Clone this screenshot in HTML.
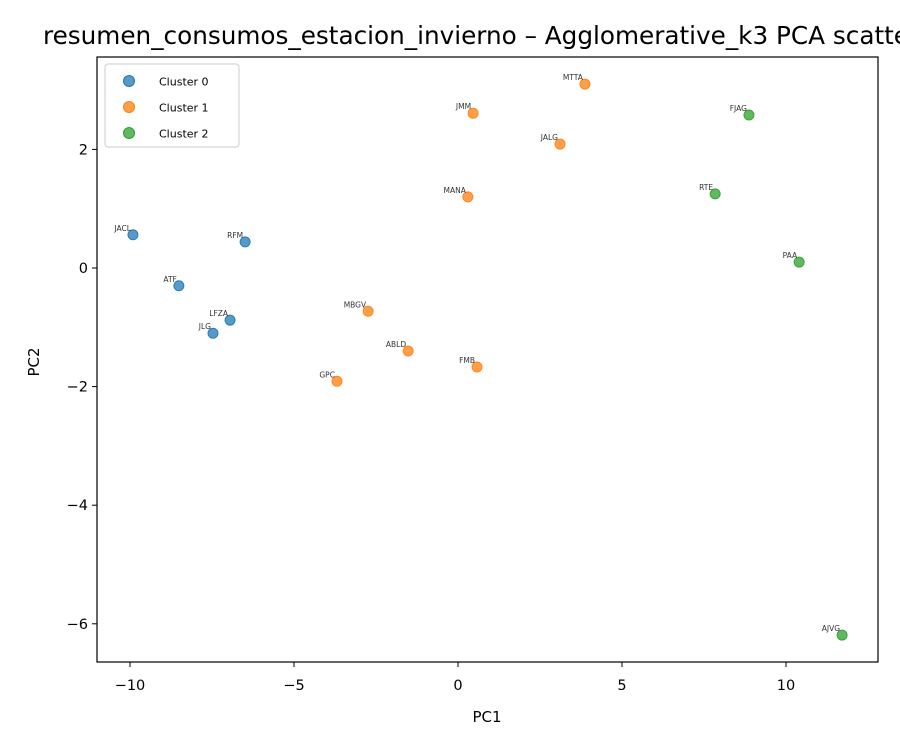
<!DOCTYPE html>
<html><head><meta charset="utf-8"><style>
html,body{margin:0;padding:0;background:#fff}
svg{display:block;font-family:"DejaVu Sans","Liberation Sans",sans-serif}
</style></head><body>
<svg id="chart" width="900" height="750" viewBox="0 0 900 750">
<rect width="900" height="750" fill="#fff"/>
<text x="43" y="44" font-size="24.7" fill="#000">resumen_consumos_estacion_invierno – Agglomerative_k3 PCA scatter</text>
<g id="ticks"></g>
<g id="points"></g>
<rect x="97" y="57" width="781" height="605" fill="none" stroke="#000" stroke-width="1.2"/>
<text x="487" y="722" font-size="15" text-anchor="middle">PC1</text>
<text x="39" y="362" font-size="15" text-anchor="middle" transform="rotate(-90 39 362)">PC2</text>
<g id="legend">
<rect x="105" y="64" width="134" height="83" rx="3" fill="#fff" fill-opacity="0.8" stroke="#ccc"/>
</g>
</svg>
<script>
const labels0 = ["JACL","RFM","ATF","LFZA","JLG"];
const xs0 = [-9.91,-6.49,-8.51,-6.95,-7.47];
const ys0 = [0.56,0.44,-0.30,-0.88,-1.10];
const labels1 = ["MTTA","JMM","JALG","MANA","MBGV","ABLD","FMB","GPC"];
const xs1 = [3.87,0.46,3.11,0.30,-2.74,-1.52,0.58,-3.69];
const ys1 = [3.10,2.61,2.09,1.20,-0.73,-1.40,-1.67,-1.91];
const labels2 = ["FJAG","RTE","PAA","AJVG"];
const xs2 = [8.87,7.84,10.40,11.71];
const ys2 = [2.58,1.25,0.10,-6.19];
const xTicks = [-10,-5,0,5,10];
const yTicks = [2,0,-2,-4,-6];
const clusterNames = ["Cluster 0","Cluster 1","Cluster 2"];
const colors = ["#1f77b4","#ff7f0e","#2ca02c"];

const NS="http://www.w3.org/2000/svg";
function sx(v){return 458+v*32.8;}
function sy(v){return 268-v*59.3;}
function mk(tag,attrs,parent){const e=document.createElementNS(NS,tag);for(const k in attrs)e.setAttribute(k,attrs[k]);parent.appendChild(e);return e;}
const tg=document.getElementById('ticks');
xTicks.forEach(t=>{
  const l=mk('line',{x1:sx(t),x2:sx(t),y1:662,y2:667,stroke:'#000'},tg);
  
  
  const tx=mk('text',{x:sx(t),y:690,'font-size':14.5,'text-anchor':'middle'},tg);
  tx.textContent=(t<0?'\u2212'+(-t):t);
  
  
});
yTicks.forEach(t=>{
  const l=mk('line',{x1:92,x2:97,y1:sy(t),y2:sy(t),stroke:'#000'},tg);
  
  
  const tx=mk('text',{x:88,y:sy(t)+5,'font-size':14.5,'text-anchor':'end'},tg);
  tx.textContent=(t<0?'\u2212'+(-t):t);
  
  
});
const pg=document.getElementById('points');
[[labels0,xs0,ys0],[labels1,xs1,ys1],[labels2,xs2,ys2]].forEach((s,ci)=>{
  s[0].forEach((lab,i)=>{
    const c=mk('circle',{cx:sx(s[1][i]),cy:sy(s[2][i]),r:5,fill:colors[ci],'fill-opacity':0.75,stroke:colors[ci],'stroke-opacity':0.9},pg);
    
    
    const t=mk('text',{x:sx(s[1][i])-2,y:sy(s[2][i])-4,'font-size':7.5,'text-anchor':'end',fill:'#333'},pg);
    t.textContent=lab;
    
    
  });
});
const lg=document.getElementById('legend');
clusterNames.forEach((n,i)=>{
  const y=81+i*26;
  const c=mk('circle',{cx:129,cy:y,r:5.5,fill:colors[i],'fill-opacity':0.75,stroke:colors[i]},lg);
  
  
  const t=mk('text',{x:159,y:y+4.5,'font-size':11},lg);
  t.textContent=n;
  
  
});
</script>
</body></html>
